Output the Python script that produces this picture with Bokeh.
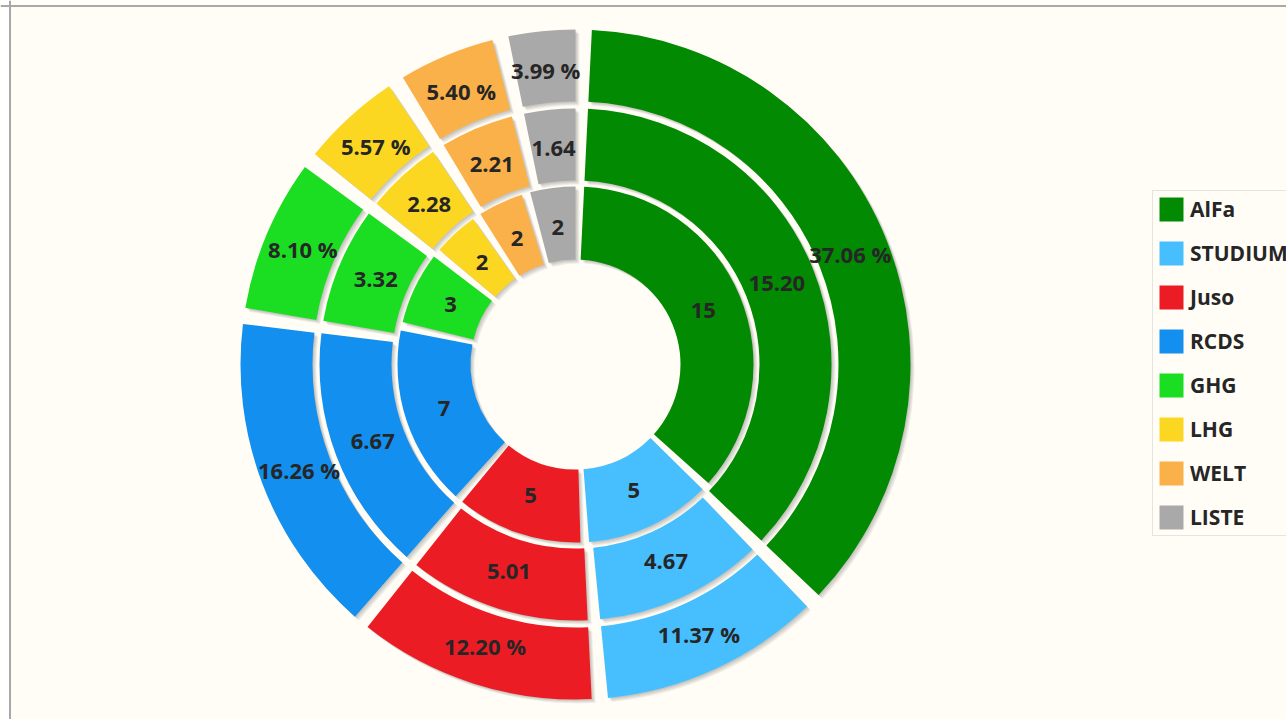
import math
from bokeh.plotting import figure
from bokeh.models import Range1d, Span, Legend, LegendItem, ColumnDataSource
from bokeh.core.properties import value
from bokeh.embed import file_html
from bokeh.resources import INLINE

# ---- data -------------------------------------------------------------
parties = ["AlFa", "STUDIUM", "Juso", "RCDS", "GHG", "LHG", "WELT", "LISTE"]
seats = [15, 5, 5, 7, 3, 2, 2, 2]                                   # inner ring
seat_calc = [15.20, 4.67, 5.01, 6.67, 3.32, 2.28, 2.21, 1.64]       # middle ring
vote_pct = [37.06, 11.37, 12.20, 16.26, 8.10, 5.57, 5.40, 3.99]     # outer ring
colors = ["#028a02", "#47bffe", "#ec1c24", "#128fef",
          "#1bde22", "#fcd722", "#fbb14a", "#a9a9a9"]

inner_labels = [str(v) for v in seats]
middle_labels = [f"{v:.2f}" for v in seat_calc]
outer_labels = [f"{v:.2f} %" for v in vote_pct]

# ---- geometry / style -------------------------------------------------
W, H = 1286, 719
CX, CY = 575, -364
GAP = math.radians(2.8)
START = math.pi / 2
FONT = "Open Sans"
TEXT_COLOR = "#262626"
rings = [
    (seats, inner_labels, 105, 178),
    (seat_calc, middle_labels, 184, 256),
    (vote_pct, outer_labels, 263, 335),
]

p = figure(width=W, height=H, output_backend="svg", toolbar_location=None,
           x_range=Range1d(0, W), y_range=Range1d(-H, 0),
           x_axis_location=None, y_axis_location=None, min_border=0)
p.min_border_left = p.min_border_right = p.min_border_top = p.min_border_bottom = 0
p.grid.grid_line_color = None
p.background_fill_color = "#fffdf6"
p.border_fill_color = "#ffffff"
p.outline_line_color = None


def ring_source(vals, labels, r0, r1):
    total = float(sum(vals))
    starts, ends, lx, ly = [], [], [], []
    cum = 0.0
    for v in vals:
        a0 = START - cum / total * 2 * math.pi - GAP
        cum += v
        a1 = START - cum / total * 2 * math.pi
        starts.append(a0)
        ends.append(a1)
        mid = (a0 + a1) / 2
        rm = (r0 + r1) / 2 - 3
        lx.append(CX + rm * math.cos(mid))
        ly.append(CY + rm * math.sin(mid))
    return ColumnDataSource(dict(start=starts, end=ends, color=colors,
                                 label=labels, lx=lx, ly=ly, party=parties))


sources = [(ring_source(v, l, r0, r1), r0, r1) for v, l, r0, r1 in rings]

# white outside the plot box (left of the frame line)
p.add_layout(Span(location=4, dimension="height", line_color="white", line_width=9))

# shadows (offset toward lower right)
for src, r0, r1 in sources:
    for o in (1, 2, 3, 4):
        p.annular_wedge(x=CX + o, y=CY - o, inner_radius=r0, outer_radius=r1,
                        start_angle="start", end_angle="end", direction="clock",
                        source=src, fill_color="black", fill_alpha=0.06,
                        line_color=None)

renderers = []
for src, r0, r1 in sources:
    r = p.annular_wedge(x=CX, y=CY, inner_radius=r0, outer_radius=r1,
                        start_angle="start", end_angle="end", direction="clock",
                        source=src, fill_color="color", line_color=None)
    renderers.append(r)
    p.text(x="lx", y="ly", text="label", source=src,
           text_font=value(FONT), text_font_style="bold", text_font_size="22px",
           text_color=TEXT_COLOR, text_align="center", text_baseline="middle")

# frame border lines (top and left)
p.add_layout(Span(location=9.5, dimension="height", line_color="#a8a8a8", line_width=2))
p.add_layout(Span(location=-5.5, dimension="width", line_color="#a8a8a8", line_width=2))

items = [LegendItem(label=name, renderers=[renderers[2]], index=i)
         for i, name in enumerate(parties)]
legend = Legend(items=items, location=(1152, 183),
                glyph_width=30, glyph_height=30, spacing=14, padding=3, margin=0,
                label_standoff=4, label_text_font=FONT, label_text_font_style="bold",
                label_text_font_size="21px", label_text_color=TEXT_COLOR,
                border_line_color="#cccccc", border_line_width=1,
                background_fill_color="#fffdf6", background_fill_alpha=1.0)
p.add_layout(legend)

open("out.html", "w").write(file_html(p, INLINE))
